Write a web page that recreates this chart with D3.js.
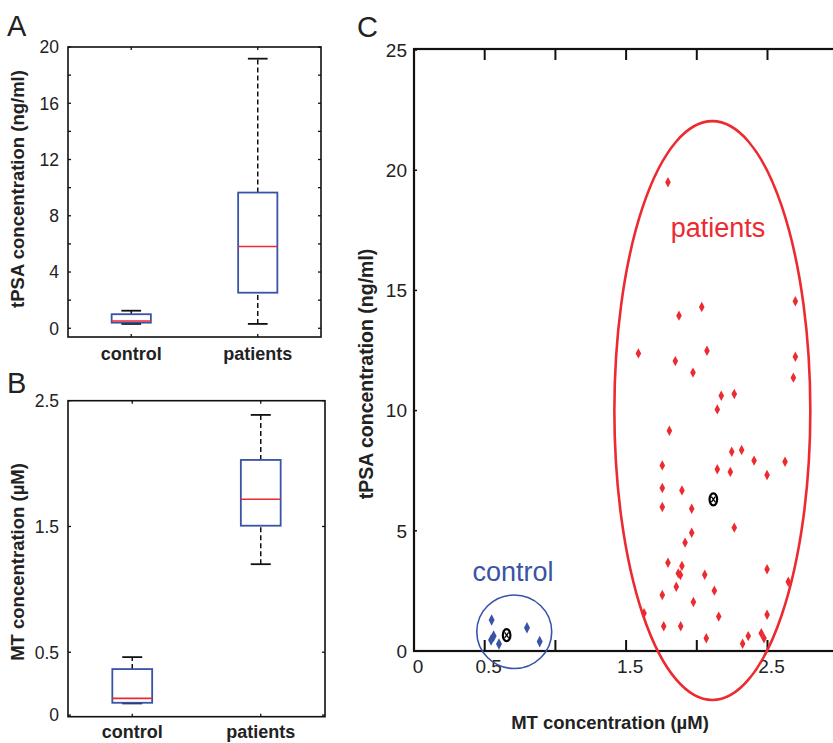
<!DOCTYPE html>
<html>
<head>
<meta charset="utf-8">
<script src="https://cdn.jsdelivr.net/npm/d3@7"></script>
<style>
  html, body { margin: 0; padding: 0; background: #fff; }
  svg { display: block; font-family: "Liberation Sans", Arial, Helvetica, sans-serif; }
</style>
</head>
<body>
<svg id="chart" width="833" height="743"></svg>
<script>
// ---------------- DATA ----------------
const groups = ["control", "patients"];

// Panel A: tPSA (ng/ml) box statistics
const tpsaWhiskerLow  = [0.31, 0.31];
const tpsaQ1          = [0.40, 2.53];
const tpsaMedian      = [0.52, 5.81];
const tpsaQ3          = [1.00, 9.65];
const tpsaWhiskerHigh = [1.25, 19.17];
const tpsaTicks = [0, 2, 4, 6, 8, 10, 12, 14, 16, 18, 20];
const tpsaTickLabels = [0, 4, 8, 12, 16, 20];

// Panel B: MT (µM) box statistics
const mtWhiskerLow  = [0.093, 1.20];
const mtQ1          = [0.098, 1.506];
const mtMedian      = [0.133, 1.716];
const mtQ3          = [0.366, 2.029];
const mtWhiskerHigh = [0.461, 2.387];
const mtTicks = [0, 0.5, 1.5, 2.5];

// Panel C: scatter MT (x) vs tPSA (y)
const controlMT   = [0.549, 0.545, 0.563, 0.601, 0.799, 0.889];
const controlTPSA = [1.29, 0.46, 0.62, 0.29, 0.97, 0.39];
const patientMT = [1.796, 1.874, 2.035, 2.697, 1.587, 1.848, 2.072, 1.973, 2.697, 2.683,
  2.173, 2.265, 2.145, 1.806, 2.247, 2.317, 2.405, 2.624, 1.756, 2.145,
  2.237, 2.497, 1.756, 1.895, 1.756, 1.964, 2.265, 1.964, 1.917, 1.796,
  1.895, 1.869, 1.884, 2.497, 2.056, 2.647, 1.855, 2.124, 1.756, 1.976,
  1.627, 2.155, 2.497, 1.766, 1.886, 2.067, 2.364, 2.324, 2.456, 2.475];
const patientTPSA = [19.5, 13.95, 14.31, 14.55, 12.38, 12.06, 12.49, 11.58, 12.24, 11.37,
  10.62, 10.69, 10.05, 9.16, 8.29, 8.36, 7.92, 7.87, 7.72, 7.56,
  7.45, 7.32, 6.78, 6.68, 5.99, 5.92, 5.13, 4.92, 4.51, 3.67,
  3.54, 3.23, 3.16, 3.40, 3.17, 2.88, 2.67, 2.51, 2.33, 2.04,
  1.57, 1.43, 1.51, 1.03, 1.03, 0.53, 0.62, 0.30, 0.74, 0.53];
const groupMeanMT   = [0.655, 2.117];
const groupMeanTPSA = [0.66, 6.31];
// ellipses: center and radii in data units
const ellipseCX = [0.709, 2.11];
const ellipseCY = [0.80, 10.0];
const ellipseRX = [0.265, 0.693];
const ellipseRY = [1.53, 12.04];
const scatterXTicks = [0.5, 1, 1.5, 2, 2.5, 3];
const scatterXTickLabels = [0, 0.5, 1.5, 2.5];
const scatterYTicks = [0, 5, 10, 15, 20, 25];

// ---------------- STYLE ----------------
const BLUE = "#3953a6";
const RED = "#ec2a30";
const svg = d3.select("#chart");

function fmt(v) { return String(v); }

// ---------------- BOX PANEL ----------------
function boxPanel(opt) {
  const g = svg.append("g");
  const x = d3.scaleLinear().domain([0.5, 2.5]).range([opt.left, opt.right]);
  const y = d3.scaleLinear().domain(opt.yDomain).range([opt.bottom, opt.top]);
  const halfBox = 0.155, halfCap = 0.078;

  // frame
  g.append("rect").attr("x", opt.left).attr("y", opt.top)
    .attr("width", opt.right - opt.left).attr("height", opt.bottom - opt.top)
    .attr("fill", "none").attr("stroke", "#111").attr("stroke-width", 1.6);

  // y ticks left & right (inward)
  opt.ticks.forEach(t => {
    g.append("line").attr("x1", opt.left).attr("x2", opt.left + 3)
      .attr("y1", y(t)).attr("y2", y(t)).attr("stroke", "#111").attr("stroke-width", 1.3);
    g.append("line").attr("x1", opt.right).attr("x2", opt.right - 3)
      .attr("y1", y(t)).attr("y2", y(t)).attr("stroke", "#111").attr("stroke-width", 1.3);
  });
  // x ticks top & bottom
  groups.forEach((c, i) => {
    g.append("line").attr("x1", x(i + 1)).attr("x2", x(i + 1))
      .attr("y1", opt.top).attr("y2", opt.top + 3).attr("stroke", "#111").attr("stroke-width", 1.3);
    g.append("line").attr("x1", x(i + 1)).attr("x2", x(i + 1))
      .attr("y1", opt.bottom).attr("y2", opt.bottom - 3).attr("stroke", "#111").attr("stroke-width", 1.3);
  });
  // y tick labels
  g.selectAll("text.yl").data(opt.tickLabels).enter().append("text")
    .attr("x", opt.left - 9).attr("y", d => y(d)).attr("dy", "0.36em")
    .attr("text-anchor", "end").attr("font-size", 17.5).attr("fill", "#222")
    .text(fmt);
  // category labels
  g.selectAll("text.xl").data(groups).enter().append("text")
    .attr("x", (d, i) => x(i + 1)).attr("y", opt.catY)
    .attr("text-anchor", "middle").attr("font-size", 18).attr("font-weight", "bold")
    .attr("fill", "#222").text(d => d);
  // y title
  g.append("text").attr("transform", `translate(${opt.titleX},${opt.titleY}) rotate(-90)`)
    .attr("text-anchor", "middle").attr("dy", "0.35em")
    .attr("font-size", 18.5).attr("font-weight", "bold").attr("fill", "#222")
    .text(opt.title);
  // panel letter
  g.append("text").attr("x", opt.letterX).attr("y", opt.letterY)
    .attr("font-size", 29).attr("fill", "#222").text(opt.letter);

  // boxes
  groups.forEach((c, i) => {
    const cx = i + 1;
    // whiskers (dashed)
    [[opt.q3[i], opt.hi[i]], [opt.lo[i], opt.q1[i]]].forEach(([a, b]) => {
      g.append("line").attr("x1", x(cx)).attr("x2", x(cx))
        .attr("y1", y(a)).attr("y2", y(b))
        .attr("stroke", "#111").attr("stroke-width", 1.5).attr("stroke-dasharray", "5,3");
    });
    // caps
    [opt.hi[i], opt.lo[i]].forEach(v => {
      g.append("line").attr("x1", x(cx - halfCap)).attr("x2", x(cx + halfCap))
        .attr("y1", y(v)).attr("y2", y(v)).attr("stroke", "#111").attr("stroke-width", 1.8);
    });
    // box
    g.append("rect").attr("x", x(cx - halfBox)).attr("y", y(opt.q3[i]))
      .attr("width", x(cx + halfBox) - x(cx - halfBox))
      .attr("height", y(opt.q1[i]) - y(opt.q3[i]))
      .attr("fill", "#fff").attr("stroke", BLUE).attr("stroke-width", 1.8);
    // median
    g.append("line").attr("x1", x(cx - halfBox)).attr("x2", x(cx + halfBox))
      .attr("y1", y(opt.med[i])).attr("y2", y(opt.med[i]))
      .attr("stroke", RED).attr("stroke-width", 1.6);
  });
}

boxPanel({
  left: 68, right: 321, top: 47, bottom: 337, yDomain: [-0.62, 20],
  ticks: tpsaTicks, tickLabels: tpsaTickLabels,
  lo: tpsaWhiskerLow, q1: tpsaQ1, med: tpsaMedian, q3: tpsaQ3, hi: tpsaWhiskerHigh,
  catY: 360, title: "tPSA concentration (ng/ml)", titleX: 18, titleY: 189,
  letter: "A", letterX: 7, letterY: 36
});

boxPanel({
  left: 68, right: 325, top: 400.7, bottom: 716.7, yDomain: [-0.0127, 2.5],
  ticks: mtTicks, tickLabels: mtTicks,
  lo: mtWhiskerLow, q1: mtQ1, med: mtMedian, q3: mtQ3, hi: mtWhiskerHigh,
  catY: 738, title: "MT concentration (\u00b5M)", titleX: 18, titleY: 562,
  letter: "B", letterX: 7, letterY: 393
});

// ---------------- SCATTER PANEL ----------------
(function () {
  const g = svg.append("g");
  const x = d3.scaleLinear().domain([0, 3]).range([414, 838.2]);
  const y = d3.scaleLinear().domain([0, 25]).range([651, 50]);
  const top = 49, bottom = 651, left = 414, right = 838.2;

  g.append("rect").attr("x", left).attr("y", top).attr("width", right - left)
    .attr("height", bottom - top).attr("fill", "none")
    .attr("stroke", "#111").attr("stroke-width", 2.2);

  // x ticks (top & bottom, inward)
  scatterXTicks.forEach(t => {
    g.append("line").attr("x1", x(t)).attr("x2", x(t)).attr("y1", top).attr("y2", top + 11)
      .attr("stroke", "#111").attr("stroke-width", 2);
    g.append("line").attr("x1", x(t)).attr("x2", x(t)).attr("y1", bottom).attr("y2", bottom - 11)
      .attr("stroke", "#111").attr("stroke-width", 2);
  });
  // y ticks
  scatterYTicks.forEach(t => {
    g.append("line").attr("x1", left).attr("x2", left + 3).attr("y1", y(t)).attr("y2", y(t))
      .attr("stroke", "#111").attr("stroke-width", 1.5);
  });
  // tick labels
  g.selectAll("text.yl").data(scatterYTicks).enter().append("text")
    .attr("x", 407).attr("y", d => y(d)).attr("dy", "0.36em")
    .attr("text-anchor", "end").attr("font-size", 19).attr("fill", "#222").text(fmt);
  g.selectAll("text.xl").data(scatterXTickLabels).enter().append("text")
    .attr("x", d => x(d) + 4).attr("y", 673)
    .attr("text-anchor", "middle").attr("font-size", 19).attr("fill", "#222").text(fmt);

  // titles
  g.append("text").attr("x", 610).attr("y", 729).attr("text-anchor", "middle")
    .attr("font-size", 18.5).attr("font-weight", "bold").attr("fill", "#222")
    .text("MT concentration (\u00b5M)");
  g.append("text").attr("transform", "translate(366,374) rotate(-90)")
    .attr("text-anchor", "middle").attr("dy", "0.35em")
    .attr("font-size", 19.5).attr("font-weight", "bold").attr("fill", "#222")
    .text("tPSA concentration (ng/ml)");
  g.append("text").attr("x", 357).attr("y", 37).attr("font-size", 29).attr("fill", "#222").text("C");

  // group names
  g.append("text").attr("x", 718).attr("y", 237).attr("text-anchor", "middle")
    .attr("font-size", 27).attr("fill", RED).text("patients");
  g.append("text").attr("x", 513).attr("y", 581).attr("text-anchor", "middle")
    .attr("font-size", 27).attr("fill", BLUE).text("control");

  // diamonds
  const diamond = (px, py, hw, hh) =>
    `M${px},${py - hh}L${px + hw},${py}L${px},${py + hh}L${px - hw},${py}Z`;
  g.selectAll("path.cp").data(controlMT).enter().append("path")
    .attr("d", (d, i) => diamond(x(d), y(controlTPSA[i]), 3, 5.8))
    .attr("fill", BLUE);
  g.selectAll("path.pp").data(patientMT).enter().append("path")
    .attr("d", (d, i) => diamond(x(d), y(patientTPSA[i]), 2.8, 5.2))
    .attr("fill", RED);

  // means
  groupMeanMT.forEach((m, i) => {
    const px = x(m), py = y(groupMeanTPSA[i]);
    g.append("ellipse").attr("cx", px).attr("cy", py).attr("rx", 3.8).attr("ry", 6)
      .attr("fill", "#fff").attr("stroke", "#000").attr("stroke-width", 2.2);
    g.append("path").attr("d", `M${px - 2},${py - 2.8}L${px + 2},${py + 2.8}M${px + 2},${py - 2.8}L${px - 2},${py + 2.8}`)
      .attr("stroke", "#000").attr("stroke-width", 1.3);
  });

  // ellipses
  const eColors = [BLUE, RED], eWidths = [1.6, 2.6];
  ellipseCX.forEach((c, i) => {
    g.append("ellipse").attr("cx", x(c)).attr("cy", y(ellipseCY[i]))
      .attr("rx", x(ellipseRX[i]) - x(0)).attr("ry", y(0) - y(ellipseRY[i]))
      .attr("fill", "none").attr("stroke", eColors[i]).attr("stroke-width", eWidths[i]);
  });
})();
</script>
</body>
</html>
